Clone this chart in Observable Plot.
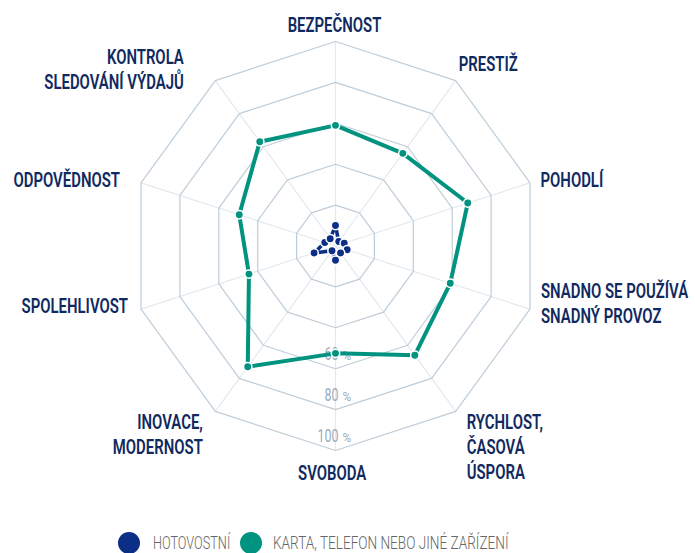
<!DOCTYPE html>
<html>
<head>
<meta charset="utf-8">
<title>Radar</title>
<script src="https://cdn.jsdelivr.net/npm/d3@7"></script>
<script src="https://cdn.jsdelivr.net/npm/@observablehq/plot@0.6"></script>
<style>
body{margin:0;background:#fff;}
#chart{width:695px;}
.legend{position:relative;width:695px;height:23px;}
.legend .sw{position:absolute;width:22px;height:22px;border-radius:50%;top:1.7px;}
.legend .lb{position:absolute;top:2px;font-family:Roboto,sans-serif;font-weight:300;font-size:18px;line-height:22px;color:#666;white-space:nowrap;transform-origin:0 50%;}
</style>
</head>
<body>
<div id="chart"></div>
<script>
// ---- data ----
const categories = [
  "BEZPEČNOST",
  "PRESTIŽ",
  "POHODLÍ",
  "SNADNO SE POUŽÍVÁ\nSNADNÝ PROVOZ",
  "RYCHLOST,\nČASOVÁ\nÚSPORA",
  "SVOBODA",
  "INOVACE,\nMODERNOST",
  "SPOLEHLIVOST",
  "ODPOVĚDNOST",
  "KONTROLA\nSLEDOVÁNÍ VÝDAJŮ"
];
const seriesNames = ["HOTOVOSTNÍ", "KARTA, TELEFON NEBO JINÉ ZAŘÍZENÍ"];
const cashValues = [10, 2.7, 4.5, 6, 4.2, 7, 2.9, 11, 5.5, 4.4];
const cardValues = [59, 56, 68, 59, 66, 52.5, 73, 44.5, 49.5, 63];
const gridLevels = [20, 40, 60, 80, 100];
const tickLabels = [60, 80, 100];
const seriesColors = ["#0b2f86", "#00937f"];

// ---- layout ----
const W = 695, H = 530, cx = 335, cy = 245.5, R = 204.5;
const labelLayout = [
  {textAnchor: "middle", dx: -1, dy: -10},
  {textAnchor: "start", dx: 3, dy: -10},
  {textAnchor: "start", dx: 10.5, dy: 4.4},
  {textAnchor: "start", dx: 11, dy: 13.6},
  {textAnchor: "start", dx: 11, dy: 67.3},
  {textAnchor: "middle", dx: -3.3, dy: 29.3},
  {textAnchor: "end", dx: -12.5, dy: 42.3},
  {textAnchor: "end", dx: -13, dy: 4},
  {textAnchor: "end", dx: -21, dy: 4.4},
  {textAnchor: "end", dx: -31.5, dy: 8.3}
];

const n = categories.length;
const ang = i => i * 2 * Math.PI / n;
const px = (v, i) => v * Math.sin(ang(i));
const py = (v, i) => v * Math.cos(ang(i));

const rows = [];
[cashValues, cardValues].forEach((vals, s) => {
  vals.forEach((v, i) => rows.push({series: seriesNames[s], category: categories[i], value: v, i}));
});
const gridRows = gridLevels.flatMap(level => categories.map((c, i) => ({level, i})));
const idx = categories.map((c, i) => i);

const font = "Roboto, sans-serif";
const labelSize = 21;

const labelMarks = idx.map(i => Plot.text([i], {
  x: d => px(100, d), y: d => py(100, d),
  text: d => categories[d],
  ...labelLayout[i],
  lineAnchor: "bottom", lineHeight: 25 / labelSize,
  fontSize: labelSize, fontWeight: 600, fill: "#10295f", fontFamily: font,
  className: "cat-label"
}));

const chart = Plot.plot({
  width: W, height: H,
  margin: 0,
  x: {domain: [-cx / R * 100, (W - cx) / R * 100], range: [0, W], axis: null},
  y: {domain: [-(H - cy) / R * 100, cy / R * 100], range: [H, 0], axis: null},
  color: {domain: seriesNames, range: seriesColors},
  style: {background: "white", fontFamily: font},
  marks: [
    Plot.link(idx, {x1: 0, y1: 0, x2: i => px(100, i), y2: i => py(100, i), stroke: "#e3e9ee", strokeWidth: 1.2}),
    Plot.line(gridRows, {x: d => px(d.level, d.i), y: d => py(d.level, d.i), z: "level", curve: "linear-closed", stroke: "#bfcdd8", strokeWidth: 1.2}),
    Plot.text(tickLabels, {x: 0, y: d => -d, text: d => String(d), textAnchor: "end", dx: 3, dy: -9, lineAnchor: "bottom", fontSize: 18, fill: "#9aacbd", fontFamily: font, className: "tick-num"}),
    Plot.text(tickLabels, {x: 0, y: d => -d, text: () => "%", textAnchor: "start", dx: 7, dy: -9, lineAnchor: "bottom", fontSize: 13, fill: "#9aacbd", fontFamily: font, className: "tick-pct"}),
    ...labelMarks,
    Plot.line(rows.filter(d => d.series === seriesNames[0]), {x: d => px(d.value, d.i), y: d => py(d.value, d.i), stroke: "series", curve: "linear-closed", strokeWidth: 3.5}),
    Plot.line(rows.filter(d => d.series === seriesNames[1]), {x: d => px(d.value, d.i), y: d => py(d.value, d.i), stroke: "series", curve: "linear-closed", strokeWidth: 4}),
    Plot.dot(rows, {x: d => px(d.value, d.i), y: d => py(d.value, d.i), fill: "series", r: 4.2, stroke: "white", strokeWidth: 1.5})
  ]
});

const host = document.getElementById("chart");
host.appendChild(chart);

// condense text horizontally to match the reference's condensed typeface
function squeezeAll(sel, refText, targetWidth, fallback) {
  const texts = [...chart.querySelectorAll(sel)];
  let k = fallback;
  const ref = texts.find(t => t.textContent === refText);
  try { if (ref) { const w = ref.getComputedTextLength(); if (w > 0) k = targetWidth / w; } } catch (e) {}
  texts.forEach(t => t.setAttribute("transform", (t.getAttribute("transform") || "") + ` scale(${k},1)`));
}
squeezeAll(".cat-label text", "ODPOVĚDNOST", 106.6, 0.73);
squeezeAll(".tick-num text", "100", 21, 0.8);
squeezeAll(".tick-pct text", "%", 8.7, 0.8);

// legend
const legend = document.createElement("div");
legend.className = "legend";
host.appendChild(legend);
const legendPos = [{sw: 118.3, lb: 152.7, w: 77.3}, {sw: 239.7, lb: 272.7, w: 235.6}];
seriesNames.forEach((name, s) => {
  const sw = document.createElement("div");
  sw.className = "sw";
  sw.style.left = legendPos[s].sw + "px";
  sw.style.background = seriesColors[s];
  const lb = document.createElement("div");
  lb.className = "lb";
  lb.style.left = legendPos[s].lb + "px";
  lb.textContent = name;
  legend.appendChild(sw);
  legend.appendChild(lb);
  const w = lb.getBoundingClientRect().width;
  if (w > 0) lb.style.transform = `scaleX(${legendPos[s].w / w})`;
});
</script>
</body>
</html>
